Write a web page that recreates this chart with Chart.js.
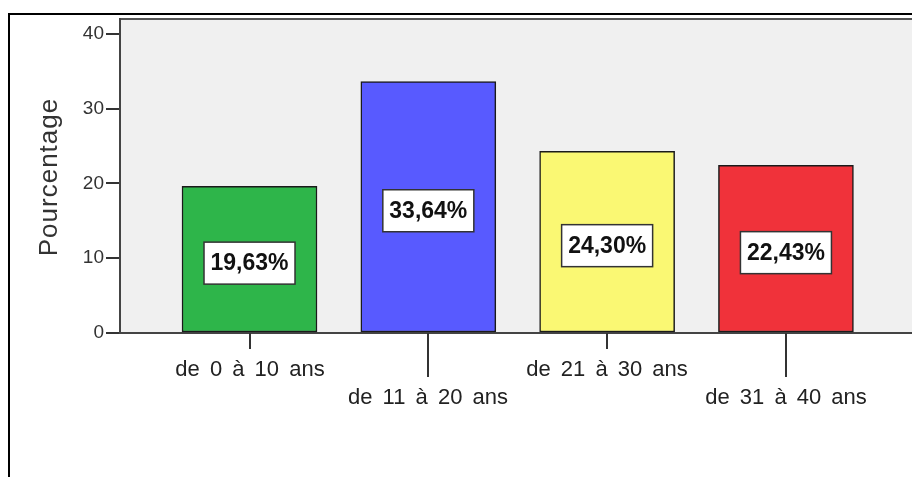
<!DOCTYPE html>
<html>
<head>
<meta charset="utf-8">
<script src="https://cdn.jsdelivr.net/npm/chart.js@4/dist/chart.umd.min.js"></script>
<style>
  html, body { margin: 0; padding: 0; background: #fff; overflow: hidden; }
  #wrap { width: 912px; height: 477px; }
</style>
</head>
<body>
<div id="wrap"><canvas id="ageChart" width="912" height="477"></canvas></div>
<script>
const categories = ["de 0 à 10 ans", "de 11 à 20 ans", "de 21 à 30 ans", "de 31 à 40 ans"];
const percentages = [19.63, 33.64, 24.30, 22.43];
const barLabels = ["19,63%", "33,64%", "24,30%", "22,43%"];
const barColors = ["#2eb54a", "#585aff", "#faf873", "#f0323a"];
const yTicks = [0, 10, 20, 30, 40];

const textColor = "#222";

// plot background, frame, y title
const framePlugin = {
    id: "frame",
    beforeDraw(chart) {
        const ctx = chart.ctx;
        const a = chart.chartArea;
        ctx.save();
        ctx.fillStyle = "#f0f0f0";
        ctx.fillRect(a.left, a.top, a.right - a.left, a.bottom - a.top);
        ctx.strokeStyle = "#555";
        ctx.lineWidth = 2;
        ctx.beginPath();
        ctx.moveTo(a.left, a.top);
        ctx.lineTo(a.right, a.top);
        ctx.stroke();
        // outer frame
        ctx.strokeStyle = "#000";
        ctx.lineWidth = 2;
        ctx.beginPath();
        ctx.moveTo(9, 477);
        ctx.lineTo(9, 14);
        ctx.lineTo(912, 14);
        ctx.stroke();
        // y title
        ctx.translate(50, 177);
        ctx.rotate(-Math.PI / 2);
        ctx.font = "26px 'Liberation Sans', Arial, sans-serif";
        ctx.letterSpacing = "1px";
        ctx.fillStyle = "#333";
        ctx.textAlign = "center";
        ctx.textBaseline = "middle";
        ctx.fillText("Pourcentage", 0, 0);
        ctx.restore();
    },
    afterDraw(chart) {
        const ctx = chart.ctx;
        const x = chart.scales.x;
        const bottom = chart.chartArea.bottom;
        ctx.save();
        // staggered category ticks and labels
        ctx.strokeStyle = "#333";
        ctx.lineWidth = 2;
        ctx.fillStyle = textColor;
        ctx.font = "22px 'Liberation Sans', Arial, sans-serif";
        ctx.wordSpacing = "4px";
        ctx.textAlign = "center";
        ctx.textBaseline = "alphabetic";
        categories.forEach((c, i) => {
            const px = Math.round(x.getPixelForValue(i + 1));
            const low = i % 2 === 1;
            ctx.beginPath();
            ctx.moveTo(px, bottom);
            ctx.lineTo(px, bottom + (low ? 44 : 16));
            ctx.stroke();
            ctx.fillText(c, px, bottom + (low ? 71 : 43));
        });
        // value boxes
        const meta = chart.getDatasetMeta(0);
        ctx.font = "bold 23px 'Liberation Sans', Arial, sans-serif";
        ctx.wordSpacing = "0px";
        ctx.textBaseline = "middle";
        meta.data.forEach((bar, i) => {
            const cx = bar.x;
            const cy = (bar.y + bar.base) / 2 + 4;
            const w = 91, h = 42;
            ctx.fillStyle = "#fff";
            ctx.fillRect(cx - w / 2, cy - h / 2, w, h);
            ctx.strokeStyle = "#333";
            ctx.lineWidth = 1.5;
            ctx.strokeRect(cx - w / 2, cy - h / 2, w, h);
            ctx.fillStyle = "#111";
            ctx.fillText(barLabels[i], cx, cy + 1);
        });
        ctx.restore();
    }
};

new Chart(document.getElementById("ageChart").getContext("2d"), {
    type: "bar",
    data: {
        datasets: [
            {
                label: "Pourcentage",
                data: percentages.map((v, i) => ({ x: i + 1, y: v })),
                backgroundColor: barColors,
                borderColor: "#1a1a1a",
                borderWidth: 1.5,
                borderSkipped: false,
                barThickness: 135,
            },
        ],
    },
    options: {
        responsive: false,
        animation: false,
        layout: { padding: { top: 19, right: 0, bottom: 136, left: 0 } },
        plugins: {
            legend: { display: false },
            tooltip: { enabled: false },
        },
        scales: {
            x: {
                type: "linear",
                offset: false,
                min: 0.2757,
                max: 4.705,
                ticks: { display: false },
                grid: { display: false },
                border: { display: true, color: "#444", width: 2 },
            },
            y: {
                min: 0,
                max: 42,
                afterFit: (s) => { s.width = 120; },
                afterBuildTicks: (s) => { s.ticks = yTicks.map((v) => ({ value: v })); },
                ticks: {
                    padding: 2,
                    color: "#333",
                    font: { family: "'Liberation Sans', Arial, sans-serif", size: 19 },
                },
                grid: { drawOnChartArea: false, tickLength: 14, color: "#333", lineWidth: 2 },
                border: { display: true, color: "#444", width: 2 },
            },
        },
    },
    plugins: [framePlugin],
});
</script>
</body>
</html>
